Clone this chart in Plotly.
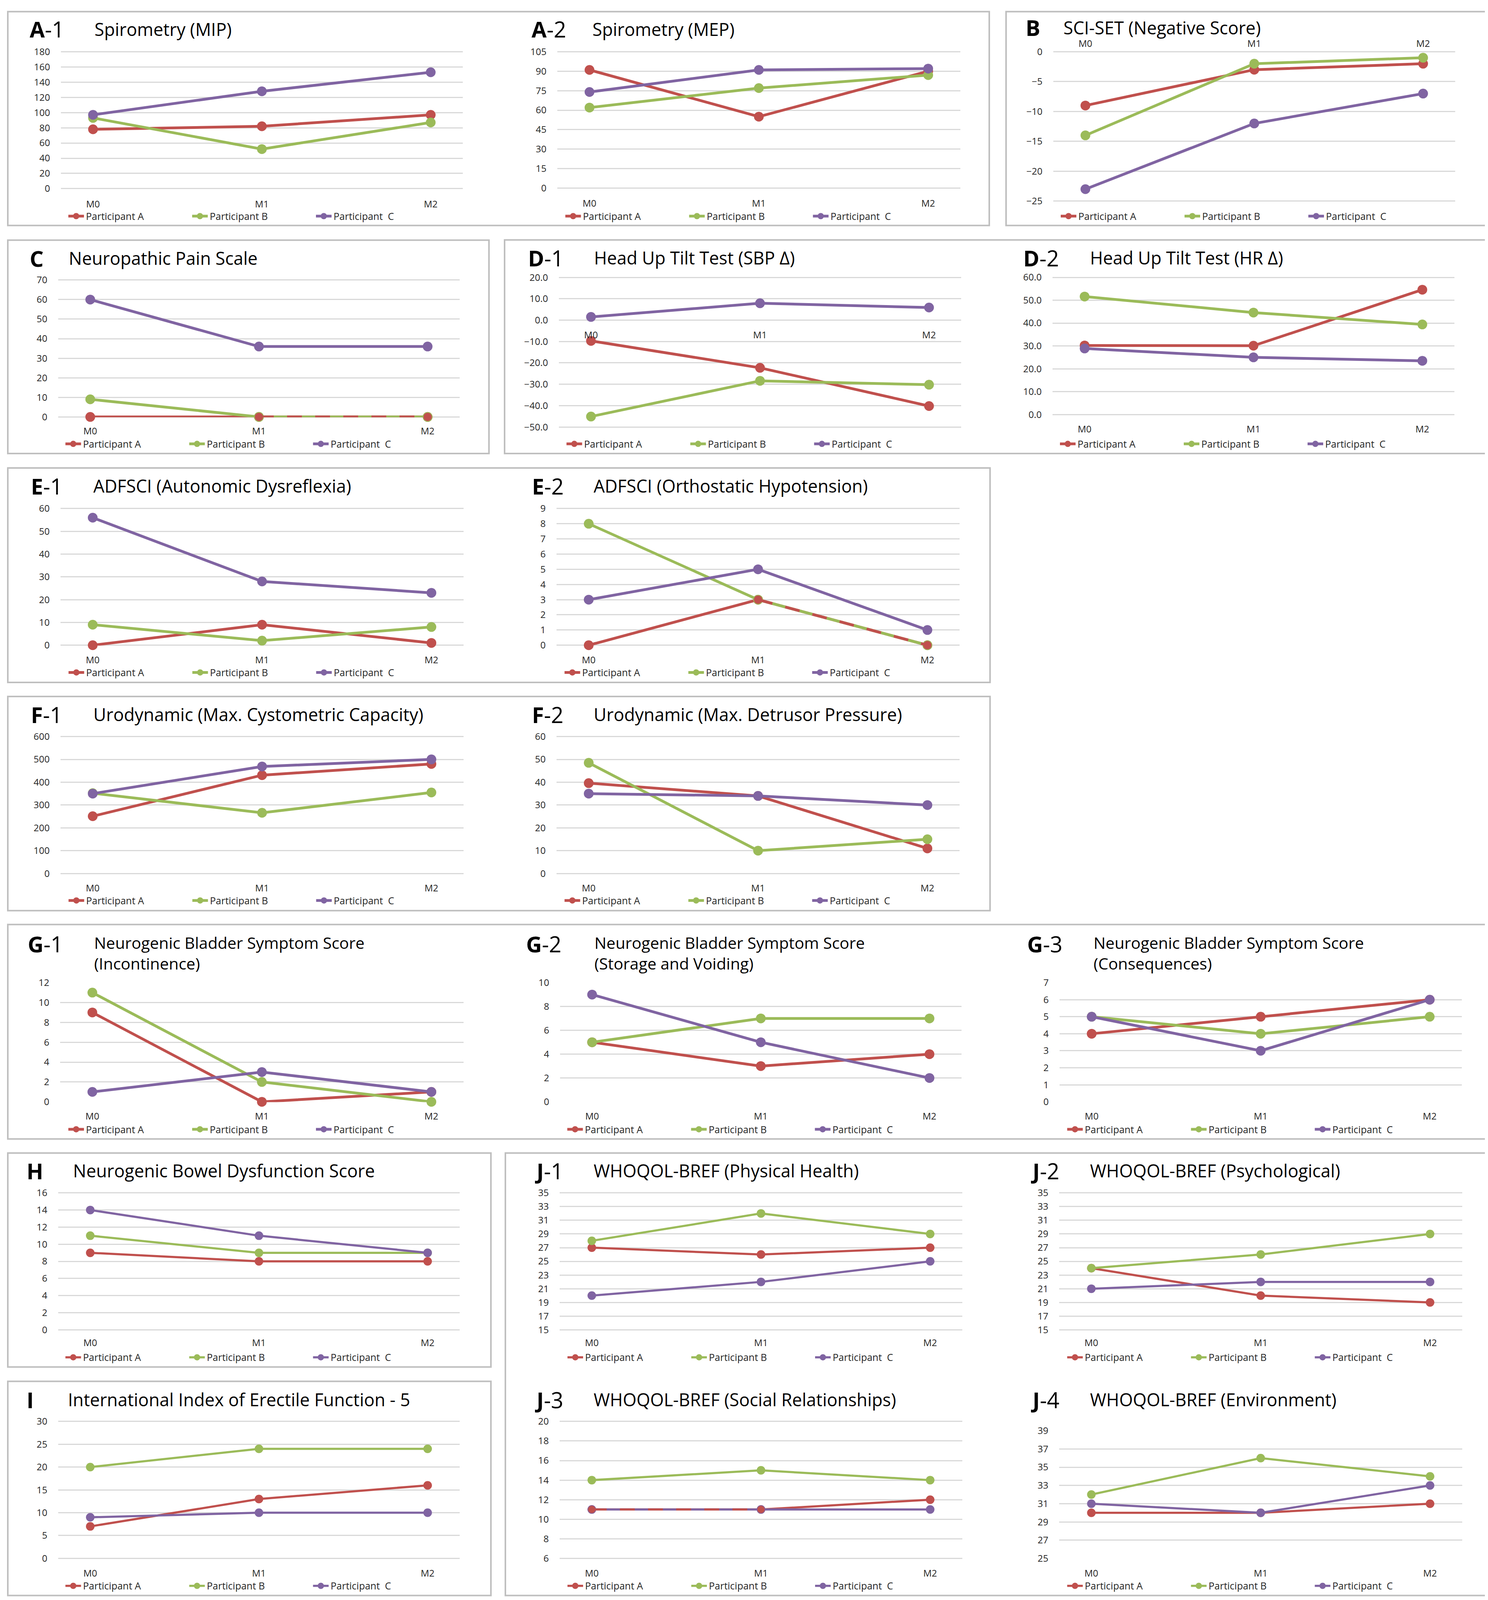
import plotly.graph_objects as go

# reference layout is measured in a 3810 x 5961 picture; the page is shown in a
# 3810 x 4096 viewport, so the figure is drawn that tall and every vertical
# pixel measure is scaled by SY (paper fractions stay the same)
W, H_REF = 3810, 5961
H_FIG = 4096
SY = H_FIG / H_REF

visits = ["M0", "M1", "M2"]
participants = ["Participant A", "Participant B", "Participant \u00a0C"]
colors = ["#C0504D", "#9BBB59", "#8064A2"]

# values per panel: rows = participant A, B, C ; cols = M0, M1, M2
mip = [[78, 82, 97], [93, 52, 87], [97, 128, 153]]
mep = [[91, 55, 90], [62, 77, 87], [74, 91, 92]]
sciset_neg = [[-9, -3, -2], [-14, -2, -1], [-23, -12, -7]]
pain = [[0, 0, 0], [9, 0, 0], [60, 36, 36]]
sbp_delta = [[-9.7, -22.3, -40.2], [-45.1, -28.4, -30.2], [1.5, 7.9, 5.9]]
hr_delta = [[30.2, 30.1, 54.6], [51.6, 44.6, 39.4], [28.9, 25.0, 23.5]]
adfsci_ad = [[0, 9, 1], [9, 2, 8], [56, 28, 23]]
adfsci_oh = [[0, 3, 0], [8, 3, 0], [3, 5, 1]]
cyst_capacity = [[251, 431, 480], [352, 266, 355], [350, 469, 500]]
detrusor = [[39.6, 34, 11], [48.5, 10, 15], [35, 34, 30]]
nbss_incont = [[9, 0, 1], [11, 2, 0], [1, 3, 1]]
nbss_storage = [[5, 3, 4], [5, 7, 7], [9, 5, 2]]
nbss_conseq = [[4, 5, 6], [5, 4, 5], [5, 3, 6]]
nbd = [[9, 8, 8], [11, 9, 9], [14, 11, 9]]
iief5 = [[7, 13, 16], [20, 24, 24], [9, 10, 10]]
whoqol_phys = [[27, 26, 27], [28, 32, 29], [20, 22, 25]]
whoqol_psych = [[24, 20, 19], [24, 26, 29], [21, 22, 22]]
whoqol_social = [[11, 11, 12], [14, 15, 14], [11, 11, 11]]
whoqol_env = [[30, 30, 31], [32, 36, 34], [31, 30, 33]]


def px(v):
    return v / W


def py(v):
    return 1 - v / H_REF


# label, title, data, x0, x1, ytop, ybot, ymin, ymax, dtick, fmt,
# title_y, label_x, title_x, xlab_y, legend_y, overlap(top, under, idx)
panels = [
    ("A", "-1", "Spirometry (MIP)", mip, 148, 1177, 156, 673, 0, 180, 20, "", 72, 66, 232, 717, 775, None),
    ("A", "-2", "Spirometry (MEP)", mep, 1419, 2451, 156, 671, 0, 105, 15, "", 72, 1351, 1507, 715, 775, None),
    ("B", "", "SCI-SET (Negative Score)", sciset_neg, 2689, 3718, 156, 720, -25, 0, 5, "", 66, 2616, 2713, 142, 775, None),
    ("C", "", "Neuropathic Pain Scale", pain, 141, 1169, 1013, 1530, 0, 70, 10, "", 932, 66, 166, 1570, 1630, (0, 1, [1, 2])),
    ("D", "-1", "Head Up Tilt Test (SBP \u0394)", sbp_delta, 1423, 2453, 1003, 1568, -50, 20, 10, ".1f", 931, 1342, 1511, 1209, 1630, None),
    ("D", "-2", "Head Up Tilt Test (HR \u0394)", hr_delta, 2687, 3716, 1003, 1521, 0, 60, 10, ".1f", 931, 2610, 2781, 1562, 1630, None),
    ("E", "-1", "ADFSCI (Autonomic Dysreflexia)", adfsci_ad, 147, 1179, 1871, 2387, 0, 60, 10, "", 1787, 69, 229, 2428, 2488, None),
    ("E", "-2", "ADFSCI (Orthostatic Hypotension)", adfsci_oh, 1417, 2449, 1871, 2387, 0, 9, 1, "", 1787, 1352, 1510, 2428, 2488, (0, 1, [1, 2])),
    ("F", "-1", "Urodynamic (Max. Cystometric Capacity)", cyst_capacity, 147, 1179, 2727, 3244, 0, 600, 100, "", 2645, 69, 229, 3285, 3344, None),
    ("F", "-2", "Urodynamic (Max. Detrusor Pressure)", detrusor, 1417, 2449, 2727, 3244, 0, 60, 10, "", 2645, 1352, 1510, 3285, 3344, None),
    ("G", "-1", "Neurogenic Bladder Symptom Score<br>(Incontinence)", nbss_incont, 146, 1179, 3651, 4101, 0, 12, 2, "", 3506, 61, 231, 4142, 4203, None),
    ("G", "-2", "Neurogenic Bladder Symptom Score<br>(Storage and Voiding)", nbss_storage, 1426, 2454, 3651, 4101, 0, 10, 2, "", 3506, 1337, 1512, 4142, 4203, None),
    ("G", "-3", "Neurogenic Bladder Symptom Score<br>(Consequences)", nbss_conseq, 2705, 3735, 3651, 4101, 0, 7, 1, "", 3506, 2620, 2790, 4142, 4203, None),
    ("H", "", "Neurogenic Bowel Dysfunction Score", nbd, 141, 1169, 4440, 4957, 0, 16, 2, "", 4358, 58, 177, 4992, 5059, None),
    ("I", "", "International Index of Erectile Function - 5", iief5, 141, 1169, 5298, 5815, 0, 30, 5, "", 5217, 58, 164, 5857, 5917, None),
    ("J", "-1", "WHOQOL-BREF (Physical Health)", whoqol_phys, 1425, 2456, 4440, 4957, 15, 35, 2, "", 4358, 1359, 1510, 4992, 5059, None),
    ("J", "-2", "WHOQOL-BREF (Psychological)", whoqol_psych, 2704, 3736, 4440, 4957, 15, 35, 2, "", 4358, 2629, 2781, 4992, 5059, None),
    ("J", "-3", "WHOQOL-BREF (Social Relationships)", whoqol_social, 1425, 2456, 5298, 5815, 6, 20, 2, "", 5217, 1359, 1510, 5857, 5917, (0, 2, [0, 1])),
    ("J", "-4", "WHOQOL-BREF (Environment)", whoqol_env, 2704, 3736, 5333, 5815, 25, 39, 2, "", 5217, 2629, 2781, 5857, 5917, None),
]

boxes = [
    (12, 7, 2525, 810), (2568, 7, 3801, 810),
    (12, 865, 1244, 1666), (1284, 864, 3800, 1666),
    (12, 1720, 2527, 2525), (12, 2578, 2527, 3382),
    (12, 3434, 3798, 4239),
    (12, 4292, 1249, 5095), (12, 5149, 1249, 5953), (1286, 4292, 3801, 5953),
]

FONT = "'Open Sans', Lato, sans-serif"
TICK = 24
LEG = 25
TITLE = 45
TITLE2 = 41
LABEL = 56

fig = go.Figure()
annotations = []
layout = {}

for i, p in enumerate(panels, start=1):
    (letter, sub, title, data, x0, x1, ytop, ybot, ymin, ymax, dtick, fmt,
     title_y, label_x, title_x, xlab_y, legend_y, overlap) = p
    sfx = "" if i == 1 else str(i)
    leg = "legend" + sfx
    lw = 7 if ytop < 4300 else 5.5
    ms = 25 if ytop < 4300 else 22

    for k in range(3):
        fig.add_trace(go.Scatter(
            x=visits, y=data[k], name=participants[k], mode="lines+markers",
            line=dict(color=colors[k], width=lw),
            marker=dict(color=colors[k], size=ms),
            xaxis="x" + sfx, yaxis="y" + sfx, legend=leg, cliponaxis=False,
        ))
    if overlap:
        # two series share the same values here: dashed overlay like the original
        top, under, idx = overlap
        fig.add_trace(go.Scatter(
            x=[visits[j] for j in idx], y=[data[top][j] for j in idx],
            mode="lines+markers", showlegend=False,
            line=dict(color=colors[top], width=lw, dash="38px,34px"),
            marker=dict(color=colors[top], size=ms * 0.85),
            xaxis="x" + sfx, yaxis="y" + sfx, legend=leg, cliponaxis=False,
        ))

    span = ymax - ymin
    xaxis = dict(
        domain=[px(x0), px(x1)], anchor="y" + sfx, type="category",
        categoryorder="array", categoryarray=visits, range=[-0.19, 2.19],
        showgrid=False, zeroline=False, showline=False,
        ticks="outside", ticklen=max(round((xlab_y - ybot) * SY - TICK * 0.55), 2),
        tickcolor="rgba(0,0,0,0)",
        tickfont=dict(size=TICK, color="#262626", family=FONT),
    )
    if ymax <= 0:
        xaxis.update(side="top", ticklen=max(round((ytop - xlab_y) * SY - TICK * 0.55), 1))
    elif ymin < 0:
        zero_px = ytop + (ymax - 0) / span * (ybot - ytop)
        xaxis.update(anchor="free", position=py(zero_px),
                     ticklen=max(round((xlab_y - zero_px) * SY - TICK * 0.55), 2))
    layout["xaxis" + sfx] = xaxis
    layout["yaxis" + sfx] = dict(
        domain=[py(ybot), py(ytop)], anchor="x" + sfx,
        range=[ymin - span * 0.003, ymax + span * 0.003],
        tick0=ymin, dtick=dtick, tickformat=fmt,
        showgrid=True, gridcolor="#D9D9D9", gridwidth=3,
        zeroline=False, showline=False,
        ticks="outside", ticklen=22, tickcolor="rgba(0,0,0,0)",
        tickfont=dict(size=TICK, color="#262626", family=FONT),
    )
    layout[leg] = dict(
        orientation="h", x=px((x0 + x1) / 2 - 25), y=py(legend_y),
        xanchor="center", yanchor="middle", bgcolor="rgba(0,0,0,0)",
        font=dict(size=LEG, color="#262626", family=FONT),
        itemwidth=40, entrywidth=262, entrywidthmode="pixels",
        traceorder="normal",
    )

    annotations.append(dict(
        x=px(label_x), y=py(title_y), xref="paper", yref="paper",
        xanchor="left", yanchor="middle", showarrow=False,
        text="<b>" + letter + "</b>" + sub,
        font=dict(size=LABEL, color="#000000", family=FONT),
    ))
    two_lines = "<br>" in title
    annotations.append(dict(
        x=px(title_x), y=py(title_y + (34 if two_lines else 0)),
        xref="paper", yref="paper", xanchor="left", yanchor="middle",
        align="left", showarrow=False, text=title,
        font=dict(size=TITLE2 if two_lines else TITLE, color="#000000", family=FONT),
    ))

shapes = [
    dict(type="rect", xref="paper", yref="paper",
         x0=px(b[0]), x1=px(b[2]), y0=py(b[3]), y1=py(b[1]),
         line=dict(color="#BFBFBF", width=4), layer="below")
    for b in boxes
]

fig.update_layout(
    width=W, height=H_FIG, margin=dict(l=0, r=0, t=0, b=0),
    paper_bgcolor="white", plot_bgcolor="white",
    font=dict(family=FONT, color="#262626"),
    annotations=annotations, shapes=shapes, **layout,
)

fig.write_html("out.html")
